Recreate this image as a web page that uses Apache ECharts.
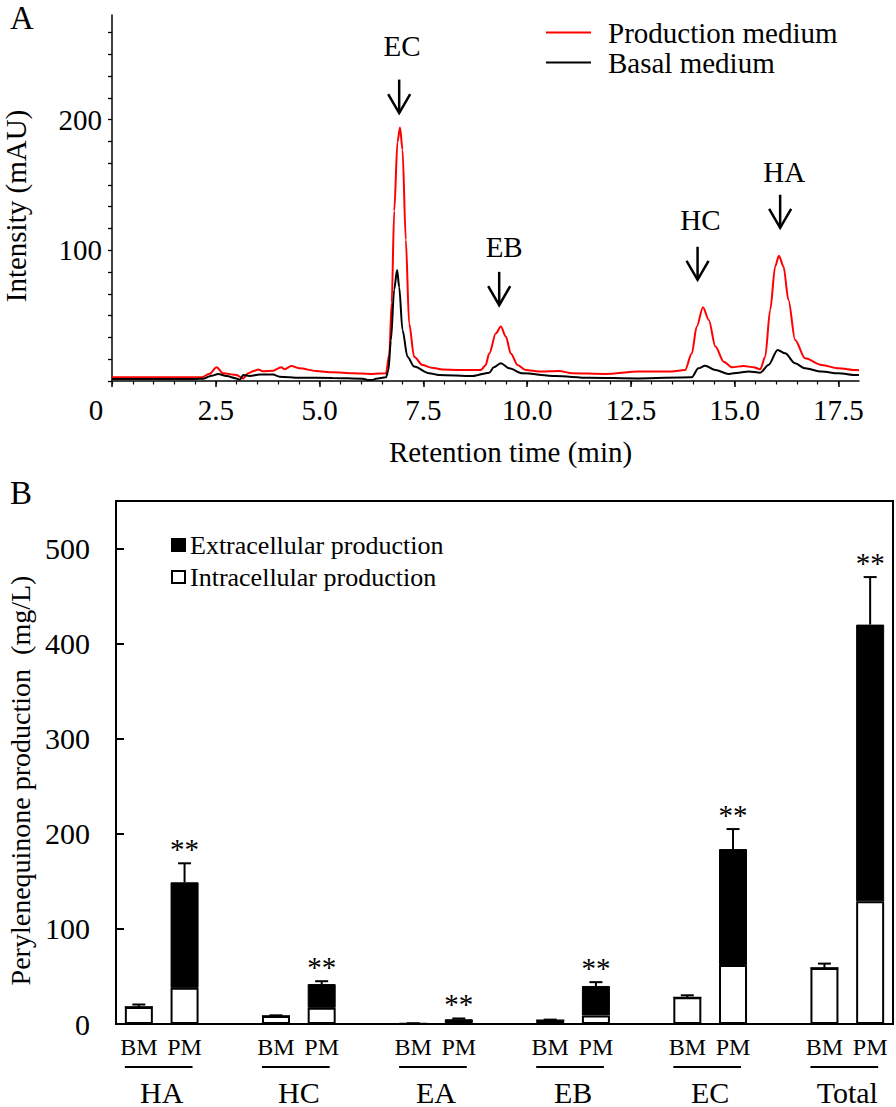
<!DOCTYPE html>
<html><head><meta charset="utf-8">
<script src="https://cdn.jsdelivr.net/npm/echarts@6/dist/echarts.min.js"></script>
<style>html,body{margin:0;padding:0;background:#fff}#c{width:896px;height:1107px}</style>
</head><body><div id="c"></div>
<script>
// ---------- Panel A: chromatogram ----------
const prodTime = [0,1.0,2.0,2.16,2.35,2.52,2.68,3.0,3.16,3.28,3.44,3.52,3.64,3.88,4.08,4.16,4.32,4.52,4.92,5.32,5.80,6.28,6.60,6.68,6.74,6.80,6.88,6.94,7.00,7.08,7.16,7.28,7.48,7.70,7.96,8.37,8.89,9.00,9.09,9.25,9.37,9.49,9.61,9.77,9.97,10.29,10.77,11.09,11.89,12.69,13.49,13.81,13.97,14.09,14.24,14.38,14.54,14.74,14.94,15.22,15.46,15.62,15.74,15.86,15.98,16.07,16.18,16.30,16.46,16.70,17.10,17.50,17.94,18.0];
const prodIntensity = [2.8,2.8,2.8,2.9,5.5,10.5,5.9,4.6,2.0,5.9,7.9,8.8,7.4,7.9,10.5,9.0,11.5,9.7,7.7,6.6,5.9,5.4,5.9,20,60,130,183,194,177,108,44,18.6,12.3,10.2,8.8,8.4,8.4,12,21,36.5,41.6,34,21,12.3,8.4,7.2,7.7,5.9,5.4,7.2,7.2,8.4,21,41.6,56.5,46.7,26.3,14.8,10.5,11.5,10.5,9.0,18.6,54.4,87.6,95.8,87.6,62,31.4,17.4,12.3,9.7,8.4,8.3];
const basalTime = [0,2.0,2.2,2.40,2.56,2.76,3.0,3.08,3.16,3.32,3.56,3.88,4.04,4.52,5.32,6.04,6.16,6.28,6.36,6.60,6.66,6.72,6.80,6.87,6.92,7.00,7.12,7.28,7.64,7.88,8.69,9.09,9.20,9.37,9.57,9.89,10.69,11.49,12.69,13.97,14.13,14.29,14.54,14.86,15.10,15.34,15.62,15.82,16.04,16.22,16.46,16.70,17.10,17.50,17.94,18.0];
const basalIntensity = [1.5,1.5,1.8,4.0,5.4,3.8,2.0,1.0,4.5,3.8,4.9,4.9,3.3,2.5,2.3,1.8,0.8,0.8,1.8,2.8,8,31,70,85,72,39,18.6,11,5.9,4.6,3.8,6.4,10.5,13.5,9.7,5.9,3.8,2.5,2.0,2.8,9.7,11.7,8.4,5.4,6.4,7.2,6.4,12.3,23.8,21.2,13.5,9.7,7.2,5.9,4.6,4.5];

const xMajorTicksA = [0,2.5,5.0,7.5,10.0,12.5,15.0,17.5];
const xMinorTicksA = [0,0.5,1,1.5,2,2.5,3,3.5,4,4.5,5,5.5,6,6.5,7,7.5,8,8.5,9,9.5,10,10.5,11,11.5,12,12.5,13,13.5,14,14.5,15,15.5,16,16.5,17,17.5];
const yLabelsA = [100,200];
const yTicksA = [0,16.667,33.333,50,66.667,83.333,100,116.667,133.333,150,166.667,183.333,200,216.667,233.333,250,266.667];

// peak annotations (retention time / intensity units)
const peakNames = ['EC','EB','HC','HA'];
const peakArrowTime = [6.92, 9.33, 14.11, 16.10];
const peakLabelTime = [6.99, 9.45, 14.18, 16.20];
const peakArrowTop = [230.6, 83.5, 102.7, 142.5];
const peakArrowTip = [205, 58, 77.4, 117.2];
const peakLabelY = [256, 102.7, 123.4, 160.2];

// ---------- Panel B: production ----------
const groups = ['HA','HC','EA','EB','EC','Total'];
const media = ['BM','PM'];
const intraBM = [18, 8.5, 0.5, 4, 28, 59];
const extraBM = [0, 0, 0, 0, 0, 0];
const errBM = [2.5, 0.6, 0.3, 0.6, 2.2, 4.5];
const intraPM = [38, 17, 1, 9, 62, 129];
const extraPM = [111, 25, 4, 31, 122, 291];
const errPM = [20, 3, 0.8, 4, 21, 50];
const starsPM = ['**','**','**','**','**','**'];
const yLabelsB = [0,100,200,300,400,500];

const FONT = 'Liberation Serif';

// build category slots
const slots = [], intraData = [], extraData = [], errItems = [], errStars = [];
groups.forEach((g, i) => {
  slots.push(g + '|BM'); intraData.push(intraBM[i]); extraData.push(extraBM[i]);
  errItems.push([slots.length - 1, intraBM[i] + extraBM[i], errBM[i]]); errStars.push('');
  slots.push(g + '|PM'); intraData.push(intraPM[i]); extraData.push(extraPM[i]);
  errItems.push([slots.length - 1, intraPM[i] + extraPM[i], errPM[i]]); errStars.push(starsPM[i]);
  if (i < groups.length - 1) { slots.push(g + '|'); intraData.push('-'); extraData.push('-'); }
});
const groupItems = groups.map((g, i) => [slots.indexOf(g + '|BM'), 0, slots.indexOf(g + '|PM')]);

const chart = echarts.init(document.getElementById('c'), null, {renderer: 'svg'});

const option = {
  animation: false,
  backgroundColor: '#fff',
  textStyle: {fontFamily: FONT, color: '#000'},
  title: [
    {text: 'A', left: 10, top: 1, padding: 0, textStyle: {fontFamily: FONT, fontWeight: 'normal', fontSize: 33, color: '#000'}},
    {text: 'B', left: 10, top: 476, padding: 0, textStyle: {fontFamily: FONT, fontWeight: 'normal', fontSize: 33, color: '#000'}}
  ],
  legend: [
    {
      data: ['Production medium', 'Basal medium'],
      orient: 'vertical', left: 541, top: 13, itemWidth: 45, itemHeight: 2, itemGap: 1, icon: 'rect',
      textStyle: {fontFamily: FONT, fontSize: 29, color: '#000', padding: [0,0,0,12]}
    },
    {
      data: ['Extracellular production', 'Intracellular production'],
      orient: 'vertical', left: 166, top: 527, itemWidth: 13, itemHeight: 12, itemGap: 6, icon: 'rect',
      textStyle: {fontFamily: FONT, fontSize: 26, color: '#000'}
    }
  ],
  grid: [
    {left: 112, top: 15, width: 747, height: 366, outerBoundsMode: 'none', containLabel: false},
    {left: 112, top: 15, width: 747, height: 366, outerBoundsMode: 'none', containLabel: false},
    {left: 116, top: 501, width: 777, height: 523, show: true, borderColor: '#000', borderWidth: 2, outerBoundsMode: 'none', containLabel: false}
  ],
  xAxis: [
    {
      gridIndex: 0, type: 'value', min: 0, max: 18,
      name: 'Retention time (min)', nameLocation: 'middle', nameGap: 56,
      nameTextStyle: {fontFamily: FONT, fontSize: 29, color: '#000', padding: [0,0,0,50]},
      axisLine: {show: true, lineStyle: {color: '#000', width: 1.5}},
      axisTick: {show: true, inside: false, length: 6, customValues: xMajorTicksA, lineStyle: {color: '#000', width: 1.5}},
      axisLabel: {customValues: xMajorTicksA, margin: 14, fontFamily: FONT, fontSize: 29, color: '#000',
        formatter: v => v === 0 ? '{z|0}' : v.toFixed(1),
        rich: {z: {fontFamily: FONT, fontSize: 29, color: '#000', padding: [0, 32, 0, 0]}}},
      splitLine: {show: false}
    },
    {
      gridIndex: 1, type: 'value', min: 0, max: 18,
      axisLine: {show: false},
      axisTick: {show: true, inside: false, length: 3.5, customValues: xMinorTicksA, lineStyle: {color: '#000', width: 1.2}},
      axisLabel: {show: false},
      splitLine: {show: false}
    },
    {
      gridIndex: 2, type: 'category', data: slots,
      axisLine: {show: true, lineStyle: {color: '#000', width: 2}},
      axisTick: {show: false},
      axisLabel: {interval: 0, margin: 11, fontFamily: FONT, fontSize: 24, color: '#000',
        formatter: v => v.split('|')[1]}
    }
  ],
  yAxis: [
    {
      gridIndex: 0, type: 'value', min: 0, max: 280,
      name: 'Intensity (mAU)', nameLocation: 'middle', nameGap: 82,
      nameTextStyle: {fontFamily: FONT, fontSize: 29, color: '#000', padding: [0, 16, 0, 0]},
      axisLine: {show: true, lineStyle: {color: '#000', width: 1.5}},
      axisTick: {show: true, inside: false, length: 4, customValues: yTicksA, lineStyle: {color: '#000', width: 1.3}},
      axisLabel: {customValues: yLabelsA, margin: 10, fontFamily: FONT, fontSize: 29, color: '#000'},
      splitLine: {show: false}
    },
    {
      gridIndex: 1, type: 'value', min: 0, max: 280, show: false
    },
    {
      gridIndex: 2, type: 'value', min: 0, max: 550,
      name: 'Perylenequinone production  (mg/L)', nameLocation: 'middle', nameGap: 79,
      nameTextStyle: {fontFamily: FONT, fontSize: 28, color: '#000', padding: [0, 36, 0, 0]},
      axisLine: {show: true, lineStyle: {color: '#000', width: 2}},
      axisTick: {show: true, inside: true, length: 8, customValues: yLabelsB, lineStyle: {color: '#000', width: 2}},
      axisLabel: {customValues: yLabelsB, margin: 26, fontFamily: FONT, fontSize: 30, color: '#000'},
      splitLine: {show: false}
    }
  ],
  series: [
    {
      name: 'Production medium', type: 'line', xAxisIndex: 0, yAxisIndex: 0,
      data: prodTime.map((t, i) => [t, prodIntensity[i]]),
      symbol: 'none', smooth: 0.3, smoothMonotone: 'x',
      lineStyle: {color: '#ff0000', width: 2}, itemStyle: {color: '#ff0000'}, z: 3
    },
    {
      name: 'Basal medium', type: 'line', xAxisIndex: 0, yAxisIndex: 0,
      data: basalTime.map((t, i) => [t, basalIntensity[i]]),
      symbol: 'none', smooth: 0.3, smoothMonotone: 'x',
      lineStyle: {color: '#000', width: 2}, itemStyle: {color: '#000'}, z: 4
    },
    {
      type: 'custom', xAxisIndex: 0, yAxisIndex: 0, silent: true,
      data: peakNames.map((n, i) => [peakArrowTime[i], peakArrowTop[i], peakArrowTip[i], peakLabelTime[i], peakLabelY[i]]),
      renderItem: (params, api) => {
        const top = api.coord([api.value(0), api.value(1)]);
        const tip = api.coord([api.value(0), api.value(2)]);
        const lab = api.coord([api.value(3), api.value(4)]);
        return {type: 'group', children: [
          {type: 'line', shape: {x1: top[0], y1: top[1], x2: tip[0], y2: tip[1]}, style: {stroke: '#000', lineWidth: 2.5}},
          {type: 'polyline', shape: {points: [[tip[0] - 11, tip[1] - 19], [tip[0], tip[1]], [tip[0] + 11, tip[1] - 19]]}, style: {stroke: '#000', lineWidth: 2.5, fill: null}},
          {type: 'text', x: lab[0], y: lab[1], style: {text: peakNames[params.dataIndex], font: '29px "Liberation Serif"', fill: '#000', textAlign: 'center', textVerticalAlign: 'middle', align: 'center', verticalAlign: 'middle'}}
        ]};
      }
    },
    {
      name: 'Intracellular production', type: 'bar', xAxisIndex: 2, yAxisIndex: 2, stack: 'prod',
      data: intraData, barWidth: 28,
      itemStyle: {color: '#fff', borderColor: '#000', borderWidth: 2}
    },
    {
      name: 'Extracellular production', type: 'bar', xAxisIndex: 2, yAxisIndex: 2, stack: 'prod',
      data: extraData, barWidth: 28,
      itemStyle: {color: '#000', borderColor: '#000', borderWidth: 1}
    },
    {
      type: 'custom', xAxisIndex: 2, yAxisIndex: 2, silent: true, z: 5,
      data: errItems,
      renderItem: (params, api) => {
        const p0 = api.coord([api.value(0), api.value(1)]);
        const p1 = api.coord([api.value(0), api.value(1) + api.value(2)]);
        const star = errStars[params.dataIndex];
        const ch = [
          {type: 'line', shape: {x1: p0[0], y1: p0[1], x2: p1[0], y2: p1[1]}, style: {stroke: '#000', lineWidth: 2}},
          {type: 'line', shape: {x1: p1[0] - 6.5, y1: p1[1], x2: p1[0] + 6.5, y2: p1[1]}, style: {stroke: '#000', lineWidth: 2}}
        ];
        if (star) ch.push({type: 'text', x: p1[0], y: p1[1] - 14, style: {text: star, font: '29px "Liberation Serif"', fill: '#000', textAlign: 'center', textVerticalAlign: 'middle', align: 'center', verticalAlign: 'middle'}});
        return {type: 'group', children: ch};
      }
    },
    {
      type: 'custom', xAxisIndex: 2, yAxisIndex: 2, silent: true,
      data: groupItems,
      renderItem: (params, api) => {
        const bm = api.coord([api.value(0), api.value(1)]);
        const pm = api.coord([api.value(2), api.value(1)]);
        const y = bm[1];
        return {type: 'group', children: [
          {type: 'line', shape: {x1: bm[0] - 14, y1: y + 43, x2: pm[0] + 8, y2: y + 43}, style: {stroke: '#000', lineWidth: 2}},
          {type: 'text', x: (bm[0] + pm[0]) / 2, y: y + 68, style: {text: groups[params.dataIndex], font: '30px "Liberation Serif"', fill: '#000', textAlign: 'center', textVerticalAlign: 'middle', align: 'center', verticalAlign: 'middle'}}
        ]};
      }
    }
  ]
};
chart.setOption(option);
</script></body></html>
